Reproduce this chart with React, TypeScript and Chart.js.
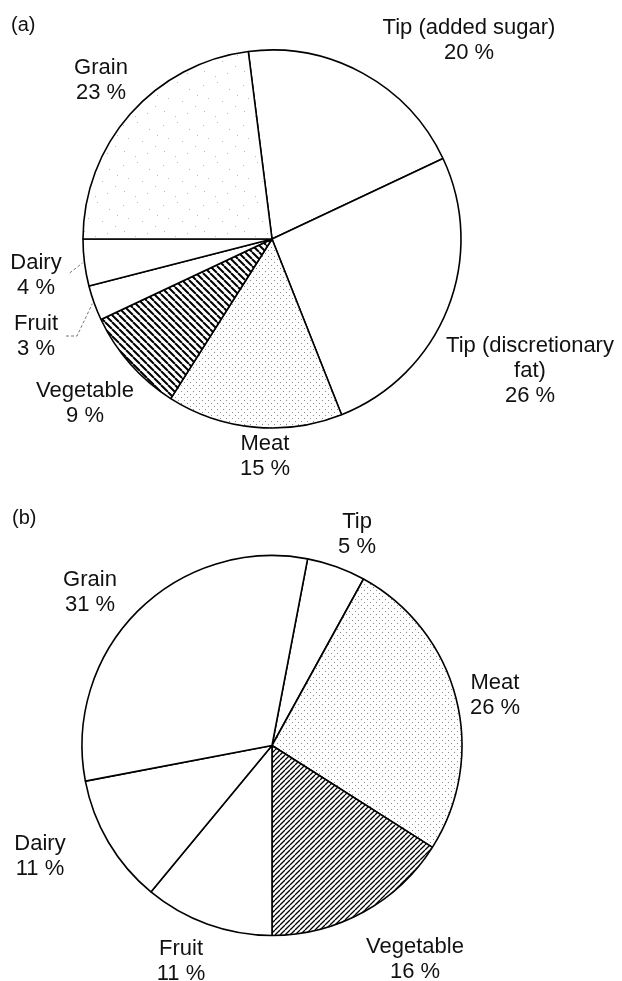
import React, { useEffect, useRef } from "react";
import { Chart, ArcElement, PieController } from "chart.js";

Chart.register(ArcElement, PieController);

// ---------- data ----------
const categoriesA: string[][] = [
  ["Tip (added sugar)"],
  ["Tip (discretionary", "fat)"],
  ["Meat"],
  ["Vegetable"],
  ["Fruit"],
  ["Dairy"],
  ["Grain"],
];
const valuesA: number[] = [20, 26, 15, 9, 3, 4, 23];

const categoriesB: string[][] = [["Tip"], ["Meat"], ["Vegetable"], ["Fruit"], ["Dairy"], ["Grain"]];
const valuesB: number[] = [5, 26, 16, 11, 11, 31];

// ---------- styles / layout ----------
const fillsA = ["white", "white", "dots", "hatchBack", "white", "white", "sparse"];
const fillsB = ["white", "dots", "hatchFwd", "white", "white", "white"];

// label block centre offsets from the pie centre (px)
const labelOffsetsA: [number, number][] = [
  [197, -201],
  [258, 130],
  [-7, 215],
  [-187, 162],
  [-236, 95],
  [-236, 34],
  [-171, -161],
];
const labelOffsetsB: [number, number][] = [
  [85, -213],
  [223, -52],
  [143, 212],
  [-91, 214],
  [-232, 109],
  [-182, -155],
];

const FONT = '22px "Liberation Sans", Arial, sans-serif';
const TAG_FONT = '20px "Liberation Sans", Arial, sans-serif';
const LINE_H = 25;

function makePattern(kind: string): CanvasPattern | string {
  if (kind === "white") return "#ffffff";
  const c = document.createElement("canvas");
  const g = c.getContext("2d")!;
  if (kind === "dots") {
    c.width = 6;
    c.height = 6;
    g.fillStyle = "#fff";
    g.fillRect(0, 0, 6, 6);
    g.fillStyle = "#8a8a8a";
    g.fillRect(1, 1, 1, 1);
    g.fillRect(4, 4, 1, 1);
  } else if (kind === "sparse") {
    c.width = 40;
    c.height = 40;
    g.fillStyle = "#fff";
    g.fillRect(0, 0, 40, 40);
    g.fillStyle = "#b8b8b8";
    const pts = [
      [3, 5], [17, 2], [29, 9], [8, 18], [22, 21], [35, 26], [4, 31], [15, 36], [27, 33], [37, 15],
    ];
    pts.forEach(([x, y]) => g.fillRect(x, y, 1, 1));
  } else if (kind === "hatchBack" || kind === "hatchFwd") {
    const s = kind === "hatchBack" ? 7 : 5;
    c.width = s;
    c.height = s;
    g.fillStyle = "#fff";
    g.fillRect(0, 0, s, s);
    g.strokeStyle = "#000";
    g.lineWidth = kind === "hatchBack" ? 2 : 1.3;
    g.beginPath();
    for (const k of [-s, 0, s]) {
      if (kind === "hatchBack") {
        g.moveTo(k, 0);
        g.lineTo(k + s, s);
      } else {
        g.moveTo(k, s);
        g.lineTo(k + s, 0);
      }
    }
    g.stroke();
  }
  const p = g.createPattern(c, "repeat");
  return p || "#fff";
}

type PanelCfg = {
  tag: string;
  tagPos: [number, number];
  cats: string[][];
  vals: number[];
  fills: string[];
  offsets: [number, number][];
  leaders: { slice: number; elbow: number }[];
  radius: number;
  padding: { left: number; right: number; top: number; bottom: number };
  height: number;
  top: number;
};

const panelA: PanelCfg = {
  tag: "(a)",
  tagPos: [11, 31],
  cats: categoriesA,
  vals: valuesA,
  fills: fillsA,
  offsets: labelOffsetsA,
  leaders: [
    { slice: 5, elbow: 0 },
    { slice: 4, elbow: 11 },
  ],
  radius: 189,
  padding: { left: 0, right: 78, top: 0, bottom: 12 },
  height: 490,
  top: 0,
};

const panelB: PanelCfg = {
  tag: "(b)",
  tagPos: [12, 34],
  cats: categoriesB,
  vals: valuesB,
  fills: fillsB,
  offsets: labelOffsetsB,
  leaders: [],
  radius: 190,
  padding: { left: 0, right: 78, top: 20, bottom: 0 },
  height: 491,
  top: 490,
};

function Panel({ cfg, rotation }: { cfg: PanelCfg; rotation: number }) {
  const ref = useRef<HTMLCanvasElement | null>(null);
  useEffect(() => {
    if (!ref.current) return;
    const labelPlugin = {
      id: "sliceLabels",
      afterDatasetsDraw(chart: any) {
        const ctx: CanvasRenderingContext2D = chart.ctx;
        const meta = chart.getDatasetMeta(0);
        ctx.save();
        ctx.font = FONT;
        ctx.fillStyle = "#111";
        ctx.textAlign = "center";
        ctx.textBaseline = "alphabetic";
        const centers: { x: number; y: number; w: number }[] = [];
        meta.data.forEach((arc: any, i: number) => {
          const { x, y } = arc.getProps(["x", "y"], true);
          const [ox, oy] = cfg.offsets[i];
          const lines = [...cfg.cats[i], `${cfg.vals[i]} %`];
          const n = lines.length;
          let w = 0;
          lines.forEach((ln, j) => {
            w = Math.max(w, ctx.measureText(ln).width);
            ctx.fillText(ln, x + ox, y + oy + (j - (n - 1) / 2) * LINE_H + 8);
          });
          centers.push({ x: x + ox, y: y + oy, w });
        });
        // leader lines
        ctx.strokeStyle = "#777";
        ctx.lineWidth = 1;
        ctx.setLineDash([3, 2]);
        cfg.leaders.forEach((ld) => {
          const arc: any = meta.data[ld.slice];
          const p = arc.getProps(["x", "y", "startAngle", "endAngle", "outerRadius"], true);
          const mid = (p.startAngle + p.endAngle) / 2;
          const ex = p.x + (p.outerRadius + 2) * Math.cos(mid);
          const ey = p.y + (p.outerRadius + 2) * Math.sin(mid);
          const c = centers[ld.slice];
          const sx = c.x + c.w / 2 + 8;
          const sy = c.y + (ld.elbow ? 2 : 0);
          ctx.beginPath();
          ctx.moveTo(sx, sy);
          if (ld.elbow) ctx.lineTo(sx + ld.elbow, sy);
          ctx.lineTo(ex, ey);
          ctx.stroke();
        });
        ctx.setLineDash([]);
        ctx.font = TAG_FONT;
        ctx.textAlign = "left";
        ctx.fillStyle = "#111";
        ctx.fillText(cfg.tag, cfg.tagPos[0], cfg.tagPos[1]);
        ctx.restore();
      },
    };
    const chart = new Chart(ref.current, {
      type: "pie",
      data: {
        labels: cfg.cats.map((l) => l.join(" ")),
        datasets: [
          {
            data: cfg.vals,
            backgroundColor: cfg.fills.map(makePattern) as any,
            borderColor: "#000",
            borderWidth: 1.6,
            radius: cfg.radius,
            clip: false as any,
          } as any,
        ],
      },
      options: {
        responsive: false,
        animation: false,
        devicePixelRatio: 1,
        events: [],
        rotation,
        layout: { padding: cfg.padding },
        plugins: { legend: { display: false }, tooltip: { enabled: false } } as any,
      },
      plugins: [labelPlugin],
    });
    return () => chart.destroy();
  }, []);
  return (
    <canvas
      ref={ref}
      width={622}
      height={cfg.height}
      style={{ position: "absolute", left: 0, top: cfg.top, width: 622, height: cfg.height }}
    />
  );
}

export default function App() {
  return (
    <div
      style={{
        position: "absolute",
        left: 0,
        top: 0,
        width: 622,
        height: 981,
        overflow: "hidden",
        background: "#fff",
      }}
    >
      <Panel cfg={panelA} rotation={-7.2} />
      <Panel cfg={panelB} rotation={10.8} />
    </div>
  );
}
